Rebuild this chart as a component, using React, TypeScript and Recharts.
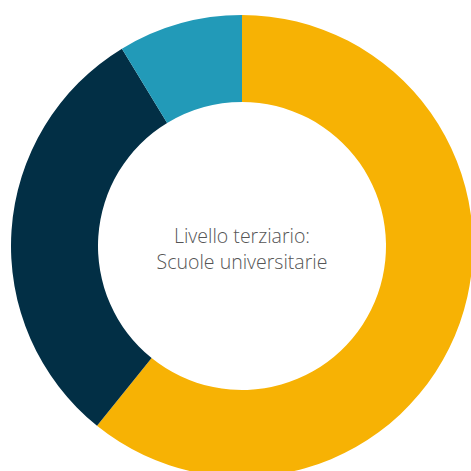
import { Cell, Pie, PieChart } from "recharts";

const categories = ["Livello A", "Livello B", "Livello C"];
const values = [60.8, 30.5, 8.7];
const colors = ["#F7B204", "#022F45", "#229AB8"];
const centerLines = ["Livello terziario:", "Scuole universitarie"];

const data = categories.map((name, i) => ({ name, value: values[i] }));

export default function App() {
  return (
    <div style={{ position: "absolute", left: 0, top: 0, width: 471, height: 471, background: "#fff", overflow: "hidden" }}>
      <PieChart width={471} height={471} margin={{ top: 0, right: 0, bottom: 0, left: 0 }}>
        <Pie
          data={data}
          dataKey="value"
          nameKey="name"
          cx={242}
          cy={246}
          innerRadius={144}
          outerRadius={231}
          startAngle={90}
          endAngle={-270}
          stroke="none"
          isAnimationActive={false}
        >
          {data.map((entry, i) => (
            <Cell key={entry.name} fill={colors[i]} />
          ))}
        </Pie>
      </PieChart>
      {centerLines.map((line, i) => (
        <div
          key={line}
          style={{
            position: "absolute",
            left: 0,
            width: 484,
            top: 223 + i * 26,
            height: 26,
            textAlign: "center",
            fontFamily: "'Open Sans', sans-serif",
            fontWeight: 300,
            fontSize: 19.5,
            lineHeight: "26px",
            color: "#555555",
            whiteSpace: "nowrap",
          }}
        >
          {line}
        </div>
      ))}
    </div>
  );
}
